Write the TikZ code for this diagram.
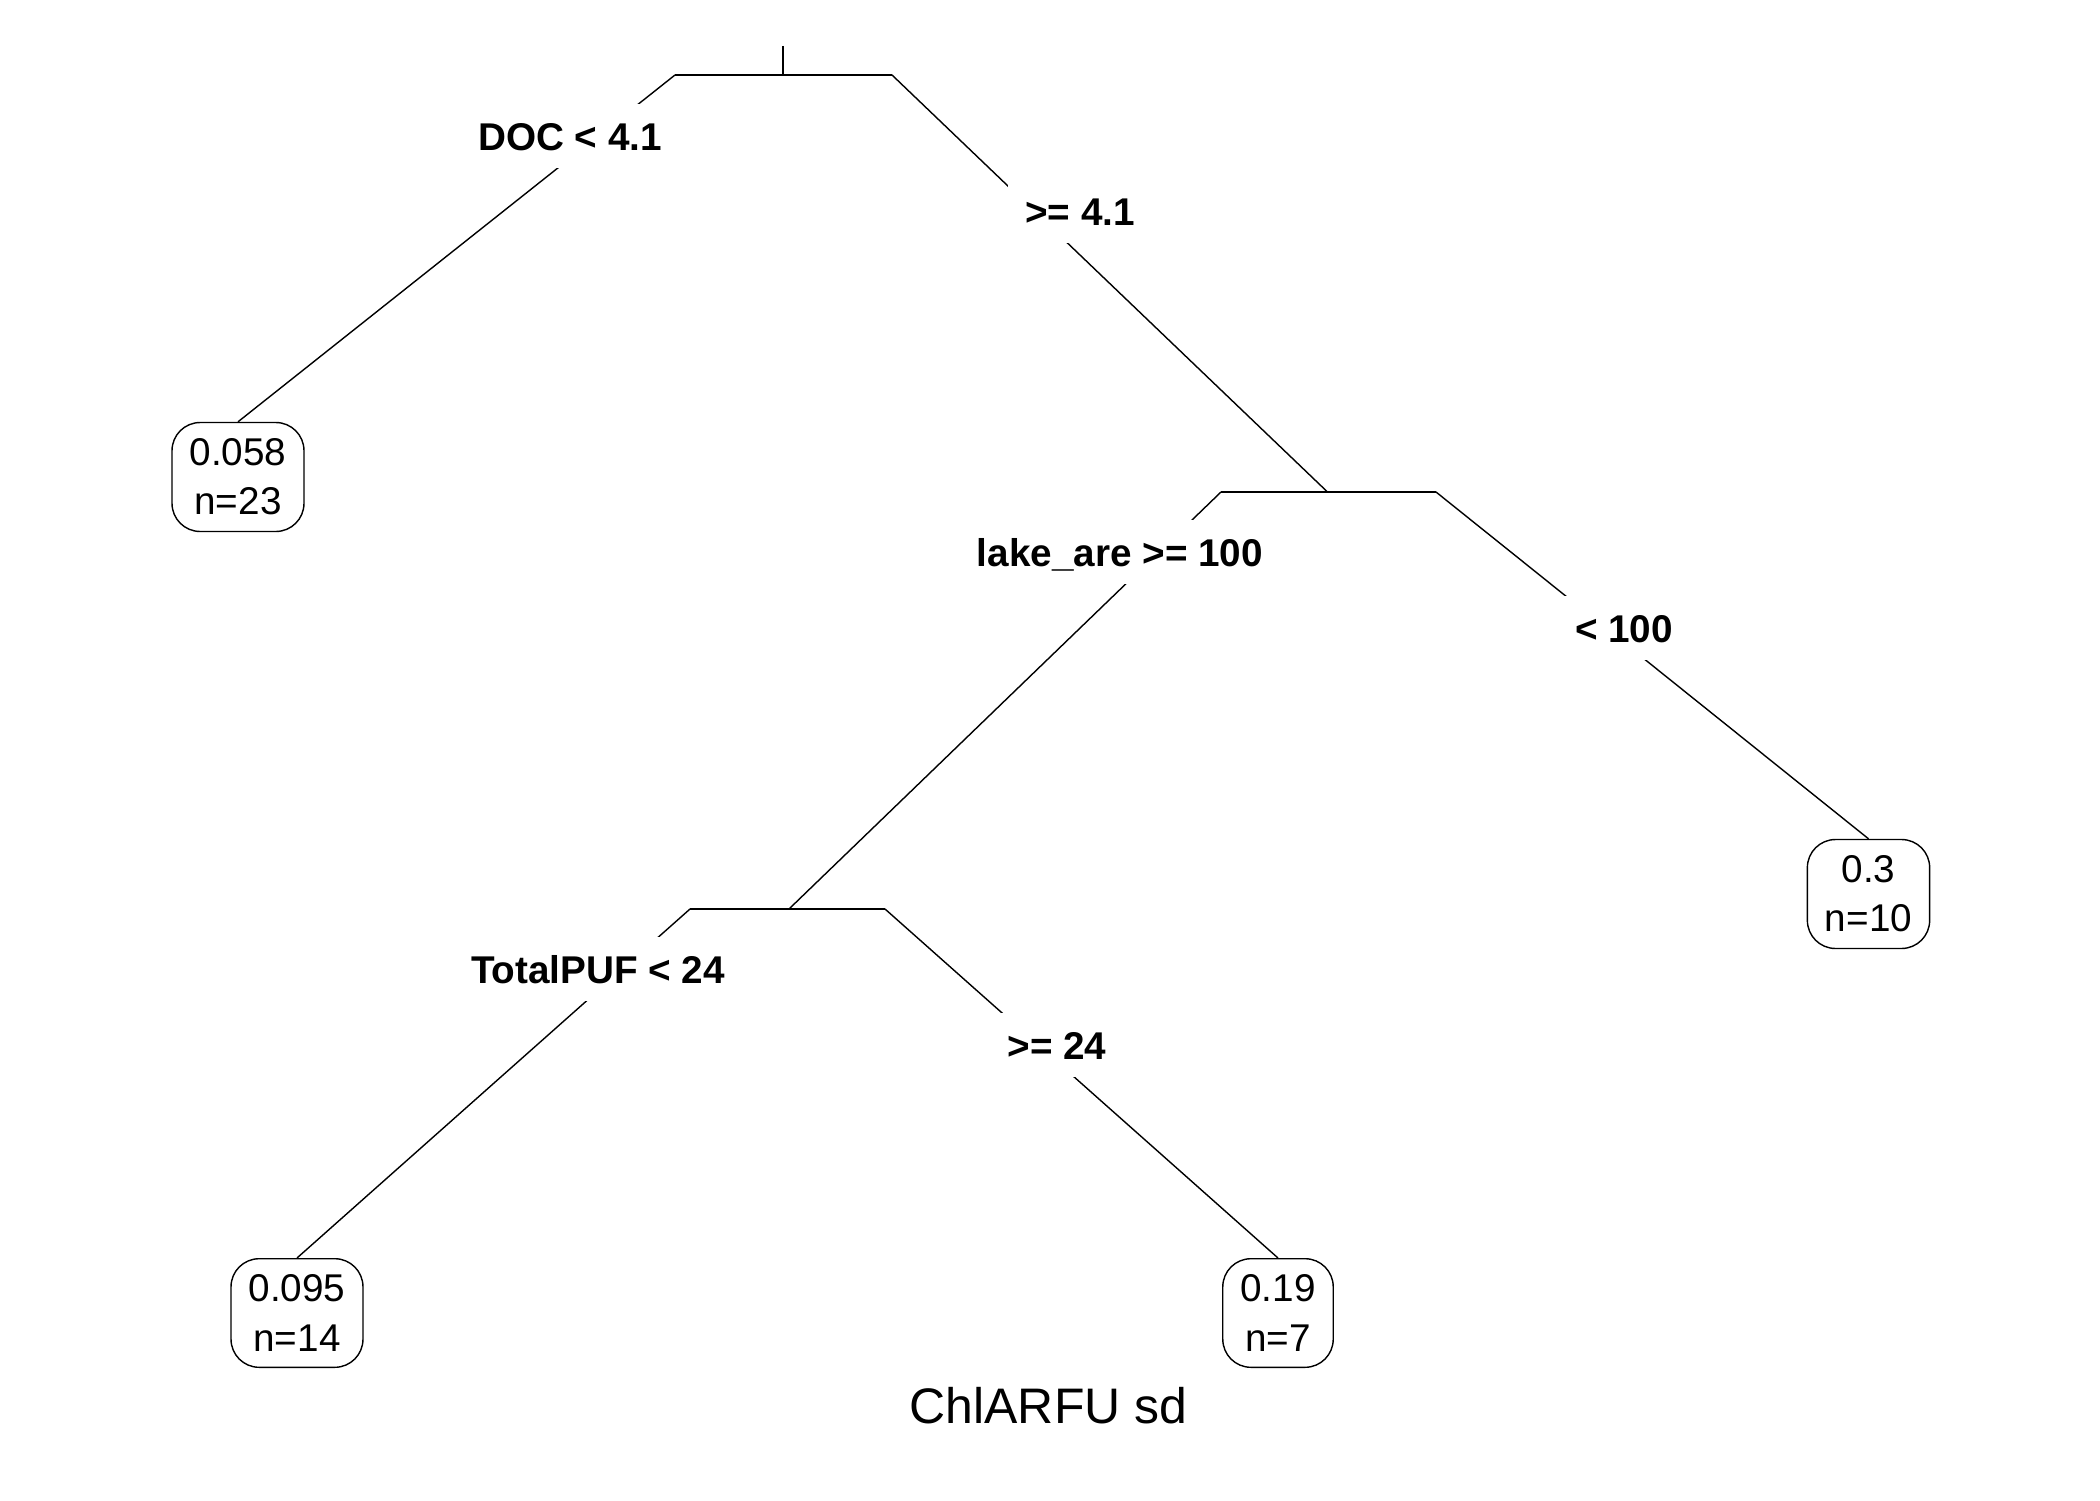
\documentclass[tikz,border=0pt]{standalone}
\usepackage{fontspec}
\setmainfont{Liberation Sans}
\usetikzlibrary{positioning}
\tikzstyle{point}=[coordinate]
\tikzstyle{leaf}=[rectangle,draw,thin,fill=white,rounded corners=8pt,align=center,inner xsep=5pt,inner ysep=4.6pt,font=\fontsize{11}{14}\selectfont]
\tikzstyle{cond}=[fill=white,inner sep=5pt,text height=8pt,text depth=0pt,font=\fontsize{11}{13}\selectfont\bfseries]
\tikzstyle{caption}=[font=\fontsize{14.2}{17}\selectfont,anchor=base]

\begin{document}
\begin{tikzpicture}[x=0.01cm,y=-0.01cm,thin]
  \useasboundingbox (0,0) rectangle (2100,1500);
  %split points
  \node[point] (top) at (783,46){};
  \node[point] (root) at (783,75){};
  \node[point] (rootL) at (675,75){};
  \node[point] (rootR) at (892,75){};
  \node[point] (lake) at (1327.5,492){};
  \node[point] (lakeL) at (1221,492){};
  \node[point] (lakeR) at (1436,492){};
  \node[point] (puf) at (789,909){};
  \node[point] (pufL) at (690,909){};
  \node[point] (pufR) at (885,909){};
  %leaves
  \node[leaf] (leafA) at (238,477){0.058\\n=23};
  \node[leaf] (leafB) at (1868.5,894){0.3\\n=10};
  \node[leaf] (leafC) at (297,1313){0.095\\n=14};
  \node[leaf] (leafD) at (1278,1313){0.19\\n=7};
  %branches
  \draw (top)--(root);
  \draw (rootL)--(rootR);
  \draw (rootL)--(leafA.north);
  \draw (rootR)--(lake);
  \draw (lakeL)--(lakeR);
  \draw (lakeL)--(puf);
  \draw (lakeR)--(leafB.north);
  \draw (pufL)--(pufR);
  \draw (pufL)--(leafC.north);
  \draw (pufR)--(leafD.north);
  %split labels
  \node[cond] (docL) at (570,136){DOC < 4.1};
  \node[cond] (docR) at (1080,211){>= 4.1};
  \node[cond] (lakeLtxt) at (1120,552){lake\_are >= 100};
  \node[cond] (lakeRtxt) at (1624,628){< 100};
  \node[cond] (pufLtxt) at (598,969){TotalPUF < 24};
  \node[cond] (pufRtxt) at (1057,1045){>= 24};
  \node[caption] (title) at (1048.5,1423){ChlARFU sd};
\end{tikzpicture}
\end{document}
